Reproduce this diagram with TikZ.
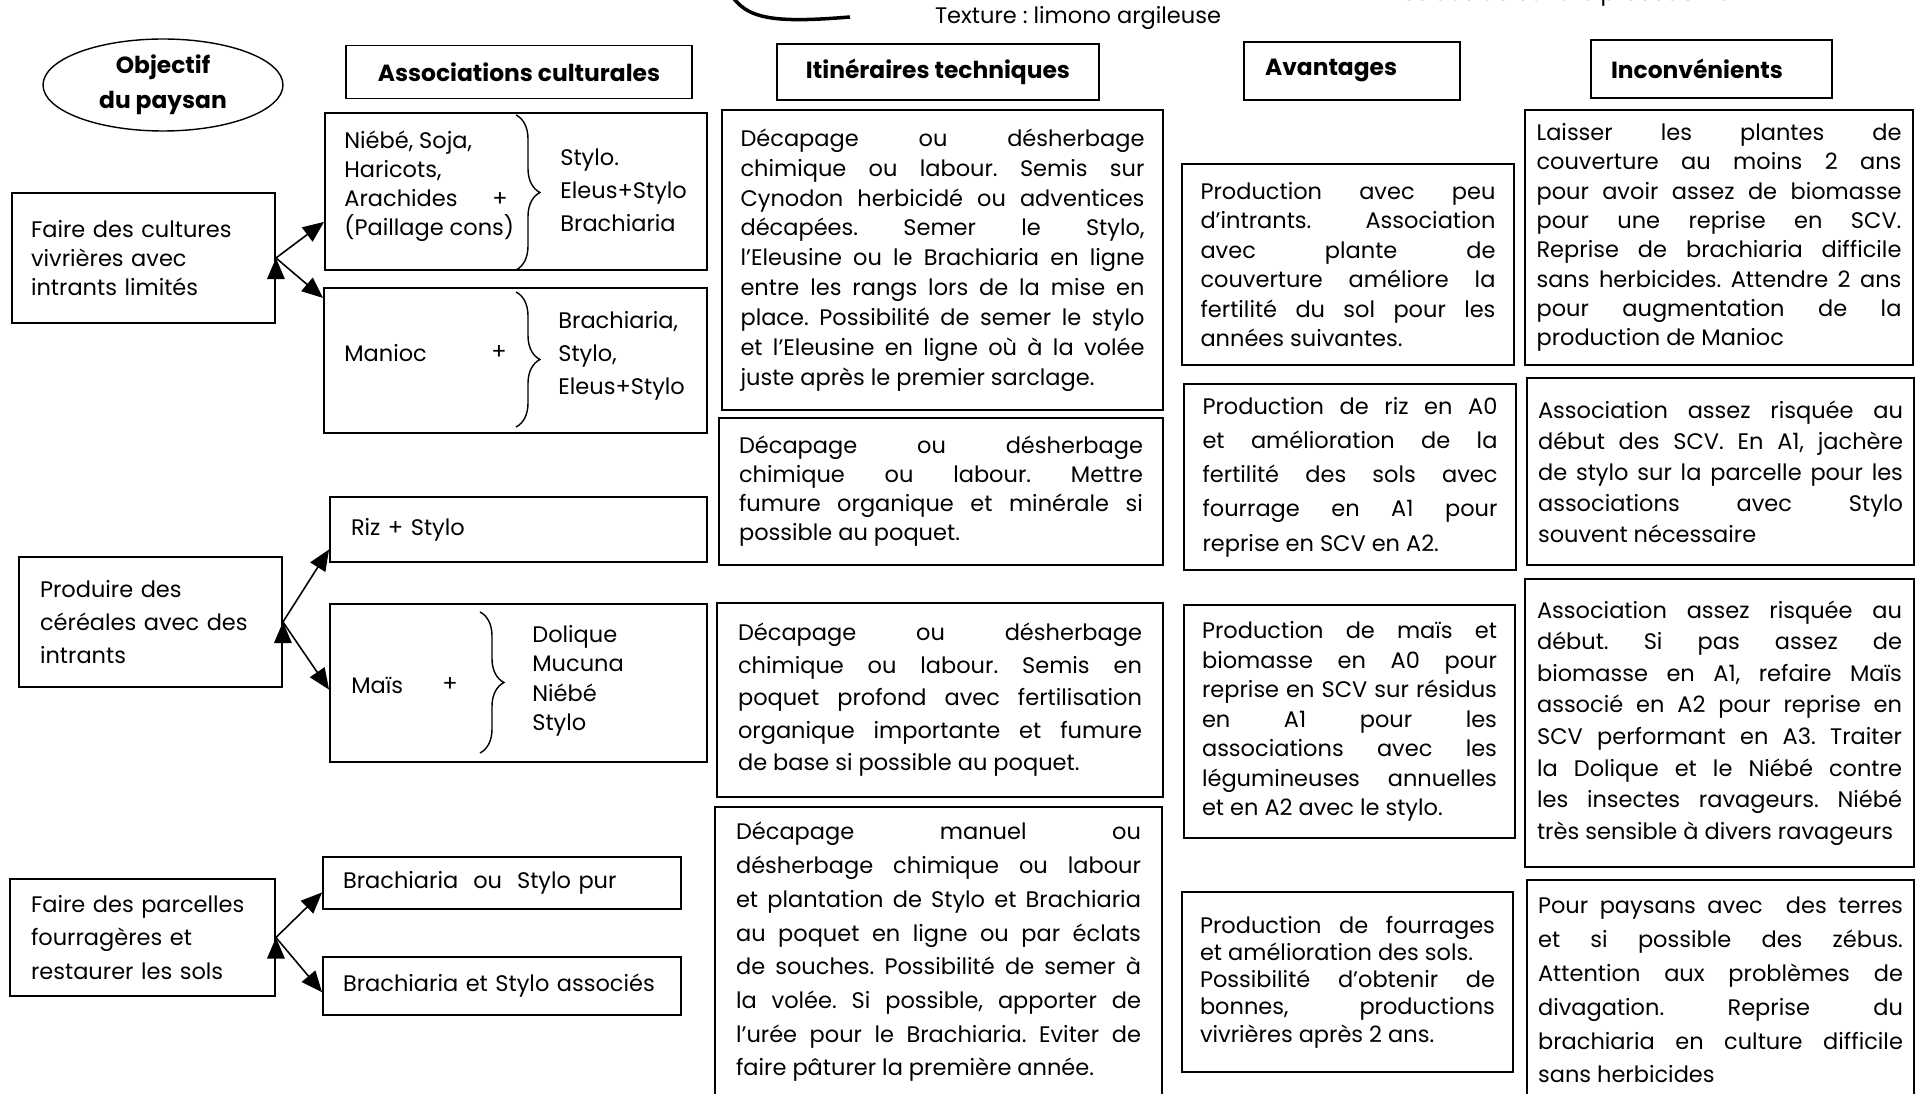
\documentclass[tikz,border=0pt]{standalone}
\usepackage{fontspec}
\setmainfont{Poppins}
\frenchspacing
\usetikzlibrary{arrows.meta,decorations.pathreplacing,shapes.geometric}
\newcommand{\lsk}[1]{\fontsize{12.8}{#1}\selectfont}
\tikzset{
    >={Triangle[length=12pt,width=10pt]},
    plan/.style={
        box/.append style={draw,line width=1.1pt,rectangle,inner sep=0pt,font=\lsk{17}},
        obj/.append style={draw,ellipse,line width=0.8pt,inner sep=0pt,align=center,font=\bfseries\fontsize{13.3}{20}\selectfont},
        head/.append style={box,font=\bfseries\fontsize{13.3}{16}\selectfont},
        goal/.append style={box,align=left,font=\lsk{16.5}},
        tech/.append style={box,align=justify,font=\lsk{17}},
        word/.append style={inner sep=0pt,align=left,font=\lsk{17}},
        curly/.append style={decorate,decoration={brace,amplitude=0.48cm},line width=0.8pt},
        link/.append style={->,line width=0.9pt}
    }
}

\begin{document}
\begin{tikzpicture}[plan,x=0.02cm,y=-0.02cm]
    \useasboundingbox (0,0) rectangle (1916,1094);

    % top of the page
    \draw[line width=2pt] (726,-14) .. controls (742,18) and (765,24) .. (850,17);
    \node[word] (textu) at (1078, 18) {Texture : limono argileuse};
    \node[word] (resid) at (1560, -5) {Résidus de culture précédente};

    % column heads
    \node[obj, minimum width=4.8cm, minimum height=1.84cm] (obj) at (163, 85) {Objectif\\du paysan};
    \node[head, minimum width=6.92cm, minimum height=1.06cm] (hasso) at (519, 72) {Associations culturales};
    \node[head, minimum width=6.44cm, minimum height=1.12cm] (hitin) at (938, 72) {Itinéraires techniques};
    \node[head, minimum width=4.32cm, minimum height=1.16cm, text width=3.48cm, align=left] (havan) at (1352, 71) {Avantages};
    \node[head, minimum width=4.82cm, minimum height=1.16cm, text width=4.02cm, align=left] (hinco) at (1711.5, 69) {Inconvénients};

    % objectives
    \node[goal, minimum width=5.26cm, minimum height=2.6cm, text width=4.5cm] (g1) at (143.5, 258) {Faire des cultures\\vivrières avec\\intrants limités};
    \node[goal, minimum width=5.26cm, minimum height=2.6cm, text width=4.42cm, font=\lsk{19}] (g2) at (150.5, 622) {Produire des\\céréales avec des\\intrants};
    \node[goal, minimum width=5.3cm, minimum height=2.34cm, text width=4.46cm, font=\lsk{19}] (g3) at (142.5, 937.5) {Faire des parcelles\\fourragères et\\restaurer les sols};

    % associations
    \node[box, minimum width=7.64cm, minimum height=3.14cm] (a1) at (516, 191.5) {};
    \node[word, anchor=west, font=\lsk{16.5}] (a1l) at (344, 186) {Niébé, Soja,\\Haricots,\\Arachides\\(Paillage cons)};
    \node[word] (a1p) at (500, 200) {+};
    \draw[curly] (516, 115) -- (516, 270);
    \node[word, anchor=west, font=\lsk{18.8}] (a1r) at (560, 190) {Stylo.\\Eleus+Stylo\\Brachiaria};

    \node[box, minimum width=7.66cm, minimum height=2.9cm] (a2) at (515.5, 360.5) {};
    \node[word, anchor=west] (a2l) at (344, 353) {Manioc};
    \node[word] (a2p) at (499, 353) {+};
    \draw[curly] (516, 292) -- (516, 427);
    \node[word, anchor=west, font=\lsk{18.8}] (a2r) at (558, 356) {Brachiaria,\\Stylo,\\Eleus+Stylo};

    \node[box, minimum width=7.54cm, minimum height=1.3cm, text width=6.7cm, align=left] (riz) at (518.5, 529.5) {Riz + Stylo};
    \node[box, minimum width=7.54cm, minimum height=3.16cm] (mais) at (518.5, 683) {};
    \node[word, anchor=west] (maisl) at (351, 685) {Maïs};
    \node[word] (maisp) at (450, 685) {+};
    \draw[curly] (480, 612) -- (480, 753);
    \node[word, anchor=west, font=\lsk{16.8}] (maisr) at (532, 681) {Dolique\\Mucuna\\Niébé\\Stylo};

    \node[box, minimum width=7.16cm, minimum height=1.04cm, text width=6.36cm, align=left] (bpur) at (502, 883) {Brachiaria\ \ ou\ \ Stylo pur};
    \node[box, minimum width=7.16cm, minimum height=1.16cm, text width=6.36cm, align=left] (bass) at (502, 986) {Brachiaria et Stylo associés};

    \draw[link] (g1.east) edge (a1.189) edge (a2.162);
    \draw[link] (g2.east) edge (riz.186) edge (mais.182);
    \draw[link] (g3.east) edge (bpur.183) edge (bass.182);

    % itineraires
    \node[tech, minimum width=8.82cm, minimum height=6cm, text width=8.08cm] (it1) at (942.5, 260) {Décapage ou désherbage\linebreak chimique ou labour. Semis sur\linebreak Cynodon herbicidé ou adventices\linebreak décapées. Semer le Stylo,\linebreak l’Eleusine ou le Brachiaria en ligne\linebreak entre les rangs lors de la mise en\linebreak place. Possibilité de semer le stylo\linebreak et l’Eleusine en ligne où à la volée\linebreak juste après le premier sarclage.};
    \node[tech, minimum width=8.88cm, minimum height=2.94cm, text width=8.08cm, font=\lsk{16.5}] (it2) at (941, 491.5) {Décapage ou désherbage\linebreak chimique ou labour. Mettre\linebreak fumure organique et minérale si\linebreak possible au poquet.};
    \node[tech, minimum width=8.92cm, minimum height=3.88cm, text width=8.08cm, font=\lsk{18.5}] (it3) at (940, 700) {Décapage ou désherbage\linebreak chimique ou labour. Semis en\linebreak poquet profond avec fertilisation\linebreak organique importante et fumure\linebreak de base si possible au poquet.};
    \node[tech, minimum width=8.94cm, minimum height=5.8cm, text width=8.1cm, font=\lsk{19.2}] (it4) at (938.5, 952) {Décapage manuel ou\linebreak désherbage chimique ou labour\linebreak et plantation de Stylo et Brachiaria\linebreak au poquet en ligne ou par éclats\linebreak de souches. Possibilité de semer à\linebreak la volée. Si possible, apporter de\linebreak l’urée pour le Brachiaria. Eviter de\linebreak faire pâturer la première année.};

    % avantages
    \node[tech, minimum width=6.64cm, minimum height=4.02cm, text width=5.9cm, font=\lsk{16.8}] (av1) at (1348, 264.5) {Production avec peu\linebreak d’intrants. Association\linebreak avec plante de\linebreak couverture améliore la\linebreak fertilité du sol pour les\linebreak années suivantes.};
    \node[tech, minimum width=6.64cm, minimum height=3.72cm, text width=5.9cm, font=\lsk{19.5}] (av2) at (1350, 477) {Production de riz en A0\linebreak et amélioration de la\linebreak fertilité des sols avec\linebreak fourrage en A1 pour\linebreak reprise en SCV en A2.};
    \node[tech, minimum width=6.62cm, minimum height=4.66cm, text width=5.9cm, font=\lsk{16.8}] (av3) at (1349.5, 721.5) {Production de maïs et\linebreak biomasse en A0 pour\linebreak reprise en SCV sur résidus\linebreak en A1 pour les\linebreak associations avec les\linebreak légumineuses annuelles\linebreak et en A2 avec le stylo.};
    \node[tech, minimum width=6.62cm, minimum height=3.6cm, text width=5.9cm, font=\lsk{15.5}] (av4) at (1347.5, 982) {Production de fourrages\linebreak et amélioration des sols.\\Possibilité d’obtenir de\linebreak bonnes, productions\linebreak vivrières après 2 ans.};

    % inconvenients
    \node[tech, minimum width=7.76cm, minimum height=5.1cm, text width=7.3cm, font=\lsk{16.7}] (in1) at (1719, 237.5) {Laisser les plantes de\linebreak couverture au moins 2 ans\linebreak pour avoir assez de biomasse\linebreak pour une reprise en SCV.\linebreak Reprise de brachiaria difficile\linebreak sans herbicides. Attendre 2 ans\linebreak pour augmentation de la\linebreak production de Manioc};
    \node[tech, minimum width=7.74cm, minimum height=3.74cm, text width=7.3cm, font=\lsk{17.6}] (in2) at (1720.5, 471.5) {Association assez risquée au\linebreak début des SCV. En A1, jachère\linebreak de stylo sur la parcelle pour les\linebreak associations avec Stylo\linebreak souvent nécessaire};
    \node[tech, minimum width=7.78cm, minimum height=5.76cm, text width=7.3cm, font=\lsk{18}] (in3) at (1719.5, 723) {Association assez risquée au\linebreak début. Si pas assez de\linebreak biomasse en A1, refaire Maïs\linebreak associé en A2 pour reprise en\linebreak SCV performant en A3. Traiter\linebreak la Dolique et le Niébé contre\linebreak les insectes ravageurs. Niébé\linebreak très sensible à divers ravageurs};
    \node[tech, minimum width=7.74cm, minimum height=4.4cm, text width=7.3cm, font=\lsk{19.3}] (in4) at (1720.5, 990) {Pour paysans avec\ \ des terres\linebreak et si possible des zébus.\linebreak Attention aux problèmes de\linebreak divagation. Reprise du\linebreak brachiaria en culture difficile\linebreak sans herbicides};
\end{tikzpicture}
\end{document}
